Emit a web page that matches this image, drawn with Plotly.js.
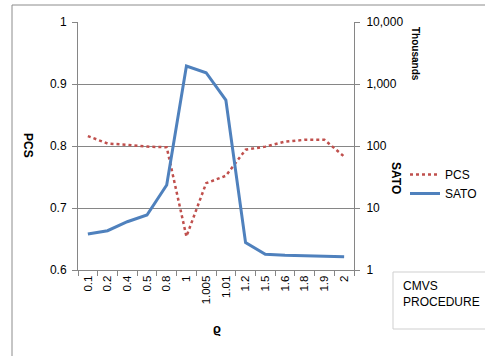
<!DOCTYPE html>
<html>
<head>
<meta charset="utf-8">
<script src="https://cdn.plot.ly/plotly-3.0.1.min.js"></script>
<style>
html,body{margin:0;padding:0;background:#fff;}
#chart{width:485px;height:356px;}
</style>
</head>
<body>
<div id="chart"></div>
<script>
const categories = ['0.1','0.2','0.4','0.5','0.8','1','1.005','1.01','1.2','1.5','1.6','1.8','1.9','2'];
const pcsValues = [0.816, 0.804, 0.802, 0.799, 0.798, 0.654, 0.740, 0.752, 0.794, 0.799, 0.807, 0.810, 0.810, 0.783];
const satoValues = [3.8, 4.3, 6.0, 7.7, 23.5, 1950, 1520, 550, 2.76, 1.79, 1.73, 1.7, 1.64, 1.64];
const satoTickVals = [1, 10, 100, 1000, 10000];
const satoTickText = ['1', '10', '100', '1,000', '10,000'];

const W = 485, H = 356;
const L = 78, R = 354, T = 22, B = 270;
const px = x => (x - L) / (R - L);
const py = y => (B - y) / (B - T);

const FONT = 'Liberation Sans, Arial, sans-serif';
const AX = '#868686';

const traces = [
  {
    x: categories, y: pcsValues, name: 'PCS', type: 'scatter', mode: 'lines',
    line: {color: '#C0504D', width: 2.5, dash: 'dot'}, yaxis: 'y'
  },
  {
    x: categories, y: satoValues, name: 'SATO', type: 'scatter', mode: 'lines',
    line: {color: '#4F81BD', width: 3}, yaxis: 'y2'
  }
];

const layout = {
  width: W, height: H,
  margin: {l: L, r: W - R, t: T, b: H - B, autoexpand: false},
  paper_bgcolor: '#fff', plot_bgcolor: '#fff',
  font: {family: FONT, size: 11, color: '#000'},
  showlegend: true,
  legend: {
    x: px(405), y: py(160), xanchor: 'left', yanchor: 'top',
    font: {family: FONT, size: 12, color: '#000'},
    bgcolor: 'rgba(0,0,0,0)', tracegroupgap: 6
  },
  xaxis: {
    type: 'category', range: [-0.5, categories.length - 0.5],
    showline: true, linecolor: AX, linewidth: 1,
    ticks: 'outside', tickson: 'boundaries', ticklen: 5, tickcolor: AX,
    tickangle: -90, tickfont: {family: FONT, size: 11.5},
    showgrid: false, zeroline: false, fixedrange: true, automargin: false
  },
  yaxis: {
    range: [0.6, 1], dtick: 0.1, tick0: 0.6,
    showline: true, linecolor: AX, linewidth: 1,
    ticks: 'outside', ticklen: 5, tickcolor: AX, ticklabelstandoff: 3,
    tickfont: {family: FONT, size: 12},
    showgrid: true, gridcolor: AX, gridwidth: 1,
    zeroline: false, fixedrange: true, automargin: false
  },
  yaxis2: {
    type: 'log', range: [0, 4], overlaying: 'y', side: 'right',
    tickvals: satoTickVals, ticktext: satoTickText,
    showline: true, linecolor: AX, linewidth: 1,
    ticks: 'outside', ticklen: 5, tickcolor: AX, ticklabelstandoff: 4,
    tickfont: {family: FONT, size: 12},
    showgrid: false, zeroline: false, fixedrange: true, automargin: false
  },
  shapes: [
    {type: 'line', xref: 'paper', yref: 'paper', x0: px(12), x1: px(12), y0: py(5), y1: py(360),
     line: {color: '#8c8c8c', width: 1}},
    {type: 'line', xref: 'paper', yref: 'paper', x0: px(12), x1: px(490), y0: py(5), y1: py(5),
     line: {color: '#8c8c8c', width: 1}},
    {type: 'rect', xref: 'paper', yref: 'paper', x0: px(393), x1: px(492), y0: py(272), y1: py(329),
     line: {color: '#cfcfcf', width: 1}, fillcolor: 'rgba(0,0,0,0)'}
  ],
  annotations: [
    {text: '<b>PCS</b>', xref: 'paper', yref: 'paper', x: px(28), y: py(145), showarrow: false,
     xanchor: 'center', yanchor: 'middle', textangle: 90, font: {family: FONT, size: 12}},
    {text: '<b>SATO</b>', xref: 'paper', yref: 'paper', x: px(396), y: py(178), showarrow: false,
     xanchor: 'center', yanchor: 'middle', textangle: 90, font: {family: FONT, size: 12}},
    {text: '<b>Thousands</b>', xref: 'paper', yref: 'paper', x: px(416), y: py(54), showarrow: false,
     xanchor: 'center', yanchor: 'middle', textangle: 90, font: {family: FONT, size: 10}},
    {text: '<b>ϱ</b>', xref: 'paper', yref: 'paper', x: px(217), y: py(328), showarrow: false,
     xanchor: 'center', yanchor: 'middle', font: {family: FONT, size: 13}},
    {text: 'CMVS<br>PROCEDURE', xref: 'paper', yref: 'paper', x: px(401), y: py(277),
     xanchor: 'left', yanchor: 'top', align: 'left', showarrow: false,
     font: {family: FONT, size: 12}}
  ]
};

Plotly.newPlot('chart', traces, layout, {displayModeBar: false, staticPlot: true});
</script>
</body>
</html>
